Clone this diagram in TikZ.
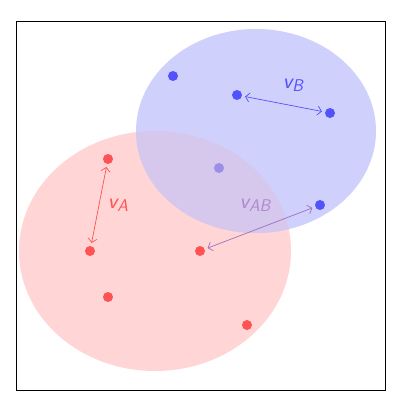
\documentclass[tikz,border=0pt]{standalone}
\usetikzlibrary{arrows.meta}
\newcommand{\vlab}[1]{\fontsize{22}{24}\selectfont v\raisebox{-3pt}{\fontsize{17}{19}\selectfont #1}}
\begin{document}
\begin{tikzpicture}[x=1pt,y=-1pt,
  dotR/.style={circle,fill=ptred,inner sep=0pt,minimum size=10pt},
  dotB/.style={circle,fill=ptblue,inner sep=0pt,minimum size=10pt},
  arr/.style={{Straight Barb[length=4pt,width=9pt]}-{Straight Barb[length=4pt,width=9pt]},line width=0.7pt,shorten <=3pt,shorten >=3pt},
  lab/.style={font=\sffamily\slshape,inner sep=0pt}]
\definecolor{ptred}{HTML}{FF5252}
\definecolor{ptblue}{HTML}{5252FF}
\definecolor{fillred}{HTML}{FFD5D5}
\definecolor{fillblue}{HTML}{D0D0FD}
\definecolor{fillboth}{HTML}{D6C7ED}
\definecolor{ptmid}{HTML}{9D8EE9}
\definecolor{arrpurp}{HTML}{A070C0}
\definecolor{labpurp}{HTML}{B088D0}
\useasboundingbox (0,0) rectangle (407,416);
\draw[line width=0.8pt] (16,21) rectangle (385,390);
\fill[fillred] (155,251) ellipse [x radius=136, y radius=120];
\fill[fillblue] (256,131) ellipse [x radius=120, y radius=102];
\begin{scope}
\clip (155,251) ellipse [x radius=136, y radius=120];
\fill[fillboth] (256,131) ellipse [x radius=120, y radius=102];
\end{scope}
\node[dotR] (r1) at (108,159) {};
\node[dotR] (r2) at (90,251) {};
\node[dotR] (r3) at (200,251) {};
\node[dotR] (r4) at (108,297) {};
\node[dotR] (r5) at (247,325) {};
\node[dotB] (b1) at (173,76) {};
\node[dotB] (b2) at (237,95) {};
\node[dotB] (b3) at (330,113) {};
\node[dotB] (b4) at (320,205) {};
\node[dotB,fill=ptmid] (m1) at (219,168) {};
\draw[arr,ptred] (r1) -- (r2);
\draw[arr,ptblue] (b2) -- (b3);
\draw[arr,arrpurp] (r3) -- (b4);
\node[lab,text=ptred] (la) at (118,205) {\vlab{A}};
\node[lab,text=ptblue] (lb) at (293,85) {\vlab{B}};
\node[lab,text=labpurp] (lab) at (255,205) {\vlab{AB}};
\end{tikzpicture}
\end{document}
